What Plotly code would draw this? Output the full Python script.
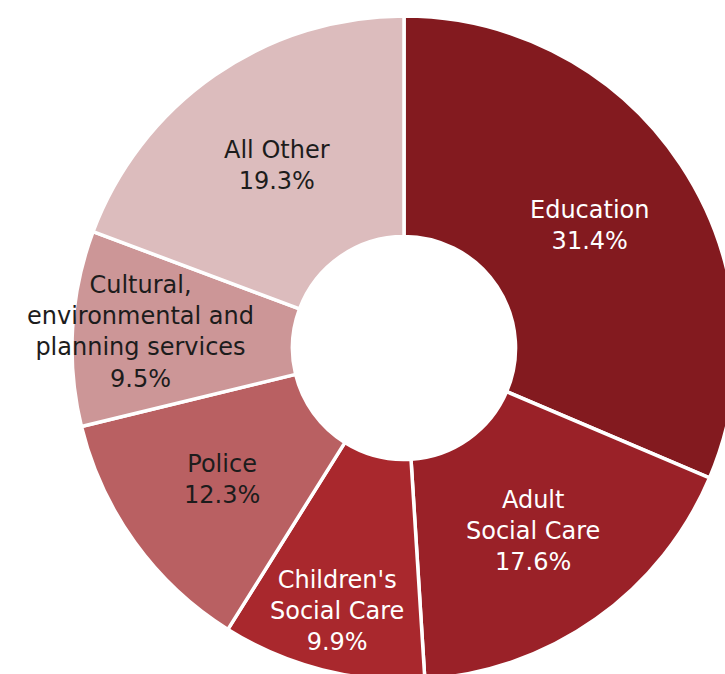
import math
import plotly.graph_objects as go

# Spending categories and their share of the total (%)
categories = [
    "Education",
    "Adult<br>Social Care",
    "Children's<br>Social Care",
    "Police",
    "Cultural,<br>environmental and<br>planning services",
    "All Other",
]
shares = [31.4, 17.6, 9.9, 12.3, 9.5, 19.3]

slice_colors = ["#831a1f", "#9a2128", "#a9282d", "#b96062", "#cc9697", "#dcbcbd"]
label_colors = ["#ffffff", "#ffffff", "#ffffff", "#1c1c1c", "#1c1c1c", "#1c1c1c"]
# distance of each label from the centre, in pixels
label_radius = [222, 224, 271, 224, 264, 222]

FIG_W, FIG_H = 740, 684
M_L, M_R, M_T, M_B = 72, 4, 16, 4
PLOT_W = FIG_W - M_L - M_R
PLOT_H = FIG_H - M_T - M_B

fig = go.Figure(
    go.Pie(
        labels=categories,
        values=shares,
        hole=0.336,
        sort=False,
        direction="clockwise",
        rotation=0,
        textinfo="none",
        hoverinfo="label+percent",
        marker=dict(colors=slice_colors, line=dict(color="#ffffff", width=3.5)),
        showlegend=False,
    )
)

# Place each label along the bisector of its slice
total = sum(shares)
cum = 0.0
annotations = []
for name, v, col, r in zip(categories, shares, label_colors, label_radius):
    mid = (cum + v / 2) / total * 2 * math.pi
    cum += v
    x = 0.5 + r * math.sin(mid) / PLOT_W
    y = 0.5 + r * math.cos(mid) / PLOT_H
    annotations.append(
        dict(
            x=x, y=y, xref="paper", yref="paper",
            text=f"{name}<br>{v:.1f}%",
            showarrow=False,
            xanchor="center", yanchor="middle",
            align="center",
            font=dict(family="DejaVu Sans", size=24, color=col),
        )
    )

fig.update_layout(
    width=FIG_W,
    height=FIG_H,
    autosize=False,
    margin=dict(l=M_L, r=M_R, t=M_T, b=M_B, pad=0),
    paper_bgcolor="#ffffff",
    plot_bgcolor="#ffffff",
    annotations=annotations,
)

fig.write_html(
    "out.html",
    config={"displayModeBar": False},
    post_script=(
        "document.body.style.margin='0';"
        "document.body.style.overflow='hidden';"
        "document.documentElement.style.overflow='hidden';"
    ),
)
